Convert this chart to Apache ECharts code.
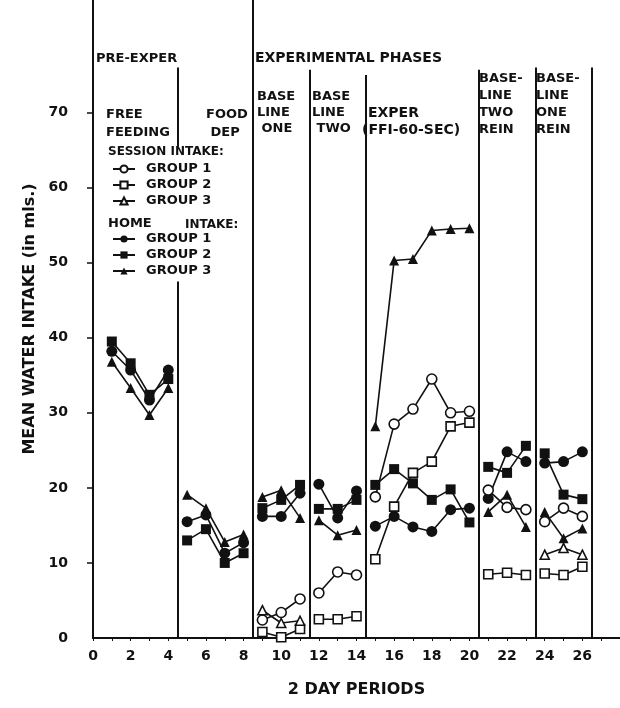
<!DOCTYPE html>
<html>
<head>
<meta charset="utf-8">
<script src="https://cdn.jsdelivr.net/npm/echarts@6/dist/echarts.min.js"></script>
<style>
  html, body { margin: 0; background: #fff; }
  #chart { width: 620px; height: 708px; }
</style>
</head>
<body>
<div id="chart"></div>
<script>
// 2 day periods
const periods = [1, 2, 3, 4, 5, 6, 7, 8, 9, 10, 11, 12, 13, 14, 15, 16, 17, 18, 19, 20, 21, 22, 23, 24, 25, 26];
// phase boundaries (lines are broken here)
const phaseBreaks = [4.5, 8.5, 11.5, 14.5, 20.5, 23.5];

// home intake
const homeG1 = [38.2, 35.7, 31.7, 35.7, 15.5, 16.4, 11.3, 12.7, 16.2, 16.2, 19.3, 20.5, 16.0, 19.6,
  14.9, 16.2, 14.8, 14.2, 17.1, 17.3, 18.6, 24.8, 23.5, 23.3, 23.5, 24.8];
const homeG2 = [39.5, 36.6, 32.4, 34.5, 13.0, 14.5, 10.0, 11.3, 17.3, 18.4, 20.4, 17.2, 17.2, 18.4,
  20.4, 22.5, 20.6, 18.4, 19.8, 15.4, 22.8, 22.0, 25.6, 24.6, 19.1, 18.5];
const homeG3 = [36.8, 33.3, 29.7, 33.3, 19.1, 17.3, 12.8, 13.8, 18.8, 19.7, 16.0, 15.7, 13.7, 14.4,
  28.2, 50.3, 50.5, 54.3, 54.5, 54.6, 16.8, 19.1, 14.8, 16.8, 13.3, 14.6];

// session intake
const sessG1 = [null, null, null, null, null, null, null, null, 2.4, 3.4, 5.2, 6.0, 8.8, 8.4,
  18.8, 28.5, 30.5, 34.5, 30.0, 30.2, 19.7, 17.4, 17.1, 15.5, 17.3, 16.2];
const sessG2 = [null, null, null, null, null, null, null, null, 0.8, 0.1, 1.2, 2.5, 2.5, 2.9,
  10.5, 17.5, 22.0, 23.5, 28.2, 28.7, 8.5, 8.7, 8.4, 8.6, 8.4, 9.5];
const sessG3 = [null, null, null, null, null, null, null, null, 3.7, 2.0, 2.3, null, null, null,
  null, null, null, null, null, null, null, null, null, 11.1, 12.0, 11.1];

// axis ticks
const yLabels = [0, 10, 20, 30, 40, 50, 60, 70];
const yTicks = [10, 20, 30, 40, 50, 60, 70];
const xLabels = [0, 2, 4, 6, 8, 10, 12, 14, 16, 18, 20, 22, 24, 26];
const xTicks = [0, 1, 2, 3, 4, 5, 6, 7, 8, 9, 10, 11, 12, 13, 14, 15, 16, 17, 18, 19, 20, 21, 22, 23, 24, 25, 26, 27, 28];

// phase divider lines: x, from, to
const dividerX = [4.5, 4.5, 8.5, 11.5, 14.5, 20.5, 23.5, 26.5];
const dividerFrom = [0, 65.5, 0, 0, 0, 0, 0, 0];
const dividerTo = [47.5, 76, 85, 75.7, 75, 75.7, 76, 76];

const ink = '#111';
const font = 'DejaVu Sans';

// pairs with a null at each phase boundary so lines don't cross phases
function toPairs(values) {
  const out = [];
  periods.forEach((p, i) => {
    out.push([p, values[i]]);
    if (i < periods.length - 1) {
      const b = phaseBreaks.find(v => v > p && v < periods[i + 1]);
      if (b !== undefined) out.push([b, null]);
    }
  });
  return out;
}

function makeSeries(name, values, symbol, size, filled) {
  return {
    name: name,
    type: 'line',
    data: toPairs(values),
    connectNulls: false,
    symbol: symbol,
    symbolSize: size,
    showAllSymbol: true,
    clip: false,
    lineStyle: { color: ink, width: 1.6 },
    itemStyle: {
      color: filled ? ink : '#fff',
      borderColor: ink,
      borderWidth: filled ? 0 : 1.6
    },
    emphasis: { disabled: true }
  };
}

const series = [
  makeSeries('HOME GROUP 1', homeG1, 'circle', 11, true),
  makeSeries('HOME GROUP 2', homeG2, 'rect', 10, true),
  makeSeries('HOME GROUP 3', homeG3, 'triangle', 10, true),
  makeSeries('SESSION GROUP 1', sessG1, 'circle', 10, false),
  makeSeries('SESSION GROUP 2', sessG2, 'rect', 9, false),
  makeSeries('SESSION GROUP 3', sessG3, 'triangle', 9, false)
];

series[0].markLine = {
  silent: true,
  symbol: ['none', 'none'],
  label: { show: false },
  lineStyle: { color: ink, width: 2, type: 'solid' },
  data: dividerX.map((x, i) => [{ coord: [x, dividerFrom[i]] }, { coord: [x, dividerTo[i]] }])
};

function txt(left, top, text, size, lh) {
  return {
    type: 'text',
    left: left,
    top: top,
    silent: true,
    style: {
      text: text,
      fill: ink,
      font: 'bold ' + (size || 13) + 'px "' + font + '"',
      lineHeight: lh || 16
    }
  };
}

const legendCommon = {
  orient: 'vertical',
  left: 107,
  itemWidth: 22,
  itemHeight: 9,
  itemGap: 2,
  selectedMode: false,
  formatter: name => name.replace(/^(HOME|SESSION) /, ''),
  textStyle: { color: ink, fontFamily: font, fontWeight: 'bold', fontSize: 13, lineHeight: 14, padding: [0, 0, 0, 6] }
};

const chart = echarts.init(document.getElementById('chart'));
chart.setOption({
  animation: false,
  backgroundColor: '#fff',
  grid: { left: 93, right: 0, top: 0, bottom: 70 },
  xAxis: {
    type: 'value',
    min: 0,
    max: 28,
    name: '2 DAY PERIODS',
    nameLocation: 'middle',
    nameGap: 44,
    nameTextStyle: { color: ink, fontFamily: font, fontWeight: 'bold', fontSize: 16 },
    axisLine: { lineStyle: { color: ink, width: 2 } },
    axisTick: { customValues: xTicks, length: 3, lineStyle: { color: ink, width: 1 } },
    axisLabel: { customValues: xLabels, color: ink, fontFamily: font, fontWeight: 'bold', fontSize: 14, margin: 11 },
    splitLine: { show: false }
  },
  yAxis: {
    type: 'value',
    min: 0,
    max: 85,
    name: 'MEAN WATER INTAKE (in mls.)',
    nameLocation: 'middle',
    nameGap: 53,
    nameTextStyle: { color: ink, fontFamily: font, fontWeight: 'bold', fontSize: 16 },
    axisLine: { lineStyle: { color: ink, width: 2 } },
    axisTick: { customValues: yTicks, length: 6, lineStyle: { color: ink, width: 1.5 } },
    axisLabel: { customValues: yLabels, color: ink, fontFamily: font, fontWeight: 'bold', fontSize: 14, margin: 25 },
    splitLine: { show: false }
  },
  legend: [
    Object.assign({ top: 157, data: ['SESSION GROUP 1', 'SESSION GROUP 2', 'SESSION GROUP 3'] }, legendCommon),
    Object.assign({ top: 227, data: ['HOME GROUP 1', 'HOME GROUP 2', 'HOME GROUP 3'] }, legendCommon)
  ],
  graphic: [
    txt(96, 51, 'PRE-EXPER', 13),
    txt(255, 50, 'EXPERIMENTAL PHASES', 14),
    txt(106, 106, 'FREE\nFEEDING', 13, 18),
    txt(206, 106, 'FOOD\n DEP', 13, 18),
    txt(257, 89, 'BASE\nLINE\n ONE'),
    txt(312, 89, 'BASE\nLINE\n TWO'),
    txt(368, 105, 'EXPER', 14),
    txt(362, 122, '(FFI-60-SEC)', 14),
    txt(479, 70, 'BASE-\nLINE\nTWO\nREIN', 13, 17),
    txt(536, 70, 'BASE-\nLINE\nONE\nREIN', 13, 17),
    txt(108, 144, 'SESSION INTAKE:', 12),
    txt(108, 216, 'HOME', 13),
    txt(185, 217, 'INTAKE:', 12)
  ],
  series: series
});
</script>
</body>
</html>
